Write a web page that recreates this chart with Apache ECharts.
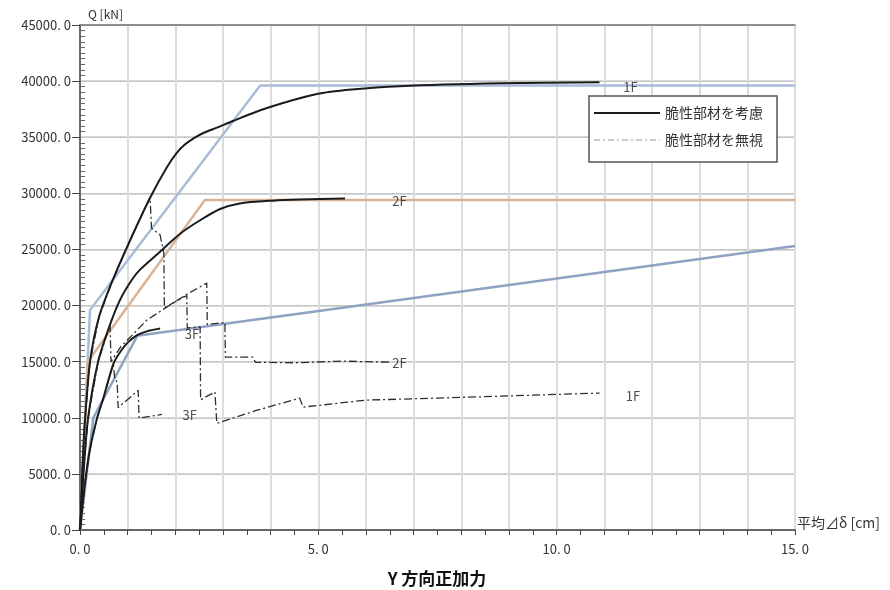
<!DOCTYPE html>
<html><head><meta charset="utf-8">
<script src="https://cdn.jsdelivr.net/npm/echarts@6/dist/echarts.min.js"></script>
<style>html,body{margin:0;padding:0;background:#fff}#c{width:890px;height:590px}</style>
</head><body><div id="c"></div>
<script>
// ---- data (x: 平均⊿δ [cm], y: Q [kN]) ----
const legendNames = ['脆性部材を考慮', '脆性部材を無視'];
const floorNames = ['1F', '2F', '3F'];

const consider1F = [[0,0],[0.05,5500],[0.1,9500],[0.21,15000],[0.4,19000],[0.69,22300],[1.05,25800],[1.47,29600],[1.82,32300],[2.03,33600],[2.2,34350],[2.4,34950],[2.6,35400],[2.87,35850],[3.21,36450],[3.92,37600],[4.97,38850],[5.7,39250],[6.7,39550],[8.8,39800],[10.9,39900]];
const consider2F = [[0,0],[0.08,5500],[0.17,10000],[0.38,15000],[0.63,18300],[0.85,20600],[1.09,22300],[1.26,23200],[1.68,24800],[2.1,26400],[2.52,27600],[2.94,28600],[3.35,29100],[4.05,29350],[4.6,29450],[5.56,29550]];
const consider3F = [[0,0],[0.1,4000],[0.2,7000],[0.36,10000],[0.48,11600],[0.7,14800],[0.85,15900],[1.0,16700],[1.19,17350],[1.4,17700],[1.68,17950]];

const ignore1F = [[0,0],[0.05,5500],[0.1,9500],[0.21,15000],[0.4,19000],[0.69,22300],[1.05,25800],[1.47,29600],[1.5,26900],[1.68,26300],[1.76,24600],[1.77,19800],[2.24,20900],[2.25,18000],[2.52,18100],[2.53,11600],[2.83,12300],[2.87,9500],[3.7,10650],[4.61,11750],[4.68,10950],[5.99,11570],[8.1,11830],[10.9,12200]];
const ignore2F = [[0,0],[0.08,5500],[0.17,10000],[0.38,15000],[0.63,18300],[0.65,15000],[0.85,16300],[1.15,17600],[1.4,18700],[1.78,19750],[2.24,21000],[2.66,22000],[2.67,18300],[3.04,18500],[3.05,15400],[3.63,15400],[3.68,14950],[4.5,14900],[5.5,15050],[6.5,14950]];
const ignore3F = [[0,0],[0.1,4000],[0.2,7000],[0.36,10000],[0.48,11600],[0.7,14800],[0.73,13400],[0.78,13200],[0.8,10900],[1.22,12450],[1.24,9970],[1.5,10150],[1.72,10300]];

const skeleton1F = [[0,0],[0.21,19600],[3.78,39600],[15,39600]];
const skeleton2F = [[0,0],[0.16,15000],[2.62,29400],[15,29400]];
const skeleton3F = [[0,0],[0.28,10000],[1.2,17300],[15,25300]];

const floorLabelText = ['1F','2F','3F','2F','1F','3F'];
const floorLabelX = [11.55, 6.7, 2.35, 6.7, 11.6, 2.3];
const floorLabelY = [39500, 29350, 17500, 14900, 11900, 10200];

const xMin = 0, xMax = 15, xStep = 1, xLabelStep = 5;
const yMin = 0, yMax = 45000, yStep = 5000;
const xName = '平均⊿δ [cm]';
const yName = 'Q [kN]';
const titleText = 'Y 方向正加力';

// ---- chart ----
const FONT = '"Noto Sans CJK JP", "Noto Sans", sans-serif';
const fmt = v => v.toFixed(1).replace('.', '. ');
const chart = echarts.init(document.getElementById('c'), null, {renderer: 'canvas'});

const considerStyle = {color: '#1b1b1b', width: 2, type: 'solid'};
const ignoreStyle = {color: '#2e2e2e', width: 1.3, type: [8, 3, 2, 3]};

const series = [];
[[skeleton1F, '#a8bcd8'], [skeleton2F, '#d9b397'], [skeleton3F, '#8ea2c2']].forEach(([d, c], i) => {
  series.push({type: 'line', name: 'skeleton' + floorNames[i], data: d, symbol: 'none', silent: true, z: 2,
    lineStyle: {color: c, width: 2.5}, itemStyle: {color: c}});
});
[consider1F, consider2F, consider3F].forEach(d => series.push({
  type: 'line', name: legendNames[0], data: d, symbol: 'none', z: 4,
  smooth: 0.25,
  lineStyle: considerStyle, itemStyle: {color: '#1b1b1b'}
}));
[ignore1F, ignore2F, ignore3F].forEach(d => series.push({
  type: 'line', name: legendNames[1], data: d, symbol: 'none', z: 3,
  lineStyle: ignoreStyle, itemStyle: {color: '#2e2e2e'}
}));
series.push({
  type: 'scatter', name: 'floor', symbolSize: 0, silent: true, z: 5,
  data: floorLabelText.map((t, i) => [floorLabelX[i], floorLabelY[i], t]),
  label: {show: true, position: 'inside', formatter: p => p.value[2],
    color: '#222', fontSize: 13, fontFamily: FONT}
});

chart.setOption({
  animation: false,
  backgroundColor: '#fff',
  title: {text: titleText, left: 432, textAlign: 'center', top: 565,
    textStyle: {fontSize: 17, fontWeight: 'bold', color: '#111', fontFamily: FONT}},
  grid: {left: 80, right: 95, top: 25, bottom: 60, containLabel: false},
  legend: {
    data: [
      {name: legendNames[0], itemStyle: {opacity: 0}, lineStyle: {color: '#1b1b1b', width: 2, type: 'solid'}},
      {name: legendNames[1], itemStyle: {opacity: 0}, lineStyle: {color: '#999', width: 1.2, type: [6, 3, 2, 3]}}
    ],
    orient: 'vertical', left: 589, top: 96,
    itemWidth: 66, itemHeight: 14, itemGap: 13, itemTextGap: 10,
    padding: [10, 14, 15, 4],
    borderColor: '#555', borderWidth: 1.5, backgroundColor: '#fff',
    textStyle: {fontSize: 14, color: '#333', fontFamily: FONT},
    selectedMode: false
  },
  xAxis: [{
    type: 'value', min: xMin, max: xMax, interval: xStep, position: 'bottom',
    name: xName, nameLocation: 'end', nameGap: 2,
    nameTextStyle: {align: 'left', verticalAlign: 'bottom', fontSize: 14, color: '#333', fontFamily: FONT},
    axisLine: {show: true, onZero: false, lineStyle: {color: '#444', width: 1.5}},
    axisTick: {show: true, length: 5, lineStyle: {color: '#444'}},
    minorTick: {show: true, splitNumber: 2, length: 5, lineStyle: {color: '#444'}},
    axisLabel: {margin: 13, fontSize: 13, color: '#333', fontFamily: FONT,
      formatter: v => (Math.abs(v % xLabelStep) < 1e-9 ? fmt(v) : '')},
    splitLine: {show: true, lineStyle: {color: '#dcdcdc', width: 2}}
  }, {
    type: 'value', min: xMin, max: xMax, interval: xStep, position: 'top',
    axisLine: {show: true, onZero: false, lineStyle: {color: '#777', width: 1.5}},
    axisTick: {show: false}, axisLabel: {show: false}, splitLine: {show: false}
  }],
  yAxis: [{
    type: 'value', min: yMin, max: yMax, interval: yStep, position: 'left',
    name: yName, nameLocation: 'end', nameGap: 5,
    nameTextStyle: {align: 'left', verticalAlign: 'bottom', fontSize: 12, color: '#333', fontFamily: FONT, padding: [0, 0, 0, 8]},
    axisLine: {show: true, onZero: false, lineStyle: {color: '#444', width: 1.5}},
    axisTick: {show: true, length: 8, lineStyle: {color: '#444'}},
    axisLabel: {margin: 9, fontSize: 13, color: '#333', fontFamily: FONT, formatter: v => fmt(v)},
    splitLine: {show: true, lineStyle: {color: '#d8d8d8', width: 2}}
  }, {
    type: 'value', min: yMin, max: yMax, interval: yStep, position: 'left', offset: 0,
    axisLine: {show: false}, axisLabel: {show: false},
    axisTick: {show: false, inside: true},
    minorTick: {show: true, splitNumber: 10, length: 5, lineStyle: {color: '#666'}},
    splitLine: {show: true, lineStyle: {color: '#b4b4b4', width: 1, type: 'dotted'}}
  }],
  series
});
</script>
</body></html>
